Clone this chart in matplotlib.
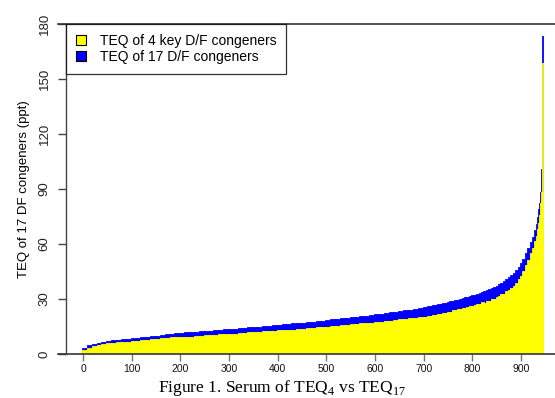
import numpy as np
import matplotlib
matplotlib.use("Agg")
from matplotlib import pyplot as plt
from matplotlib.patches import Patch

plt.rcParams['font.family'] = ['Liberation Sans', 'DejaVu Sans']
plt.rcParams['mathtext.fontset'] = 'custom'
plt.rcParams['mathtext.rm'] = 'Liberation Serif'

# samples sorted by TEQ17; ranks 0-700 grouped by 10
teq17_lo = [3.0, 4.2, 5.0, 5.6, 6.1, 6.5, 6.9, 7.2, 7.5, 7.8,
            8.0, 8.3, 8.6, 8.9, 9.2, 9.5, 9.8, 10.1, 10.4, 10.8,
            11.0, 11.2, 11.4, 11.6, 11.8, 12.0, 12.2, 12.4, 12.6, 12.9,
            13.1, 13.3, 13.5, 13.7, 14.0, 14.2, 14.4, 14.7, 14.9, 15.2,
            15.4, 15.6, 15.9, 16.1, 16.4, 16.6, 16.9, 17.1, 17.4, 17.7,
            18.0, 18.3, 18.6, 18.9, 19.2, 19.5, 19.8, 20.1, 20.4, 20.8,
            21.1, 21.4, 21.8, 22.1, 22.5, 22.9, 23.3, 23.7, 24.1, 24.6]
teq4_lo = [1.8, 3.0, 3.8, 4.3, 4.8, 5.2, 5.4, 5.8, 6.0, 6.2,
           6.5, 6.6, 7.0, 7.2, 7.5, 7.6, 8.0, 8.2, 8.5, 8.7,
           8.8, 9.0, 9.0, 9.3, 9.4, 9.6, 9.8, 9.9, 10.2, 10.3,
           10.5, 10.6, 10.8, 11.0, 11.2, 11.3, 11.6, 11.8, 11.9, 12.2,
           12.3, 12.4, 12.8, 12.8, 13.1, 13.2, 13.6, 13.6, 14.0, 14.1,
           14.3, 14.6, 14.8, 15.1, 15.2, 15.6, 15.7, 16.1, 16.2, 16.6,
           16.8, 17.0, 17.4, 17.6, 17.9, 18.3, 18.5, 18.9, 19.1, 19.6]

# ranks 700-900 grouped by 5
teq17_mid = [25.0, 25.2, 25.5, 25.8, 26.0, 26.3, 26.6, 26.9, 27.2, 27.5,
             27.8, 28.1, 28.5, 28.8, 29.1, 29.5, 29.9, 30.3, 30.7, 31.1,
             31.5, 31.9, 32.3, 32.8, 33.3, 33.8, 34.3, 34.8, 35.4, 36.0,
             36.7, 37.5, 38.3, 39.2, 40.2, 41.3, 42.5, 43.8, 45.3, 47.0]
teq4_mid = [19.5, 19.9, 20.2, 20.0, 20.8, 20.9, 21.4, 21.2, 22.0, 21.9,
            22.6, 22.5, 23.3, 23.2, 23.8, 23.9, 24.6, 24.5, 25.3, 25.4,
            25.9, 26.0, 26.8, 26.6, 27.6, 27.4, 28.5, 28.3, 29.4, 29.6,
            30.5, 30.9, 32.0, 32.2, 33.6, 34.2, 35.6, 36.6, 38.4, 40.2]

# upper tail
tail_start = [900, 905, 910, 915, 920, 924, 928, 932, 935, 938, 940, 942, 944, 945]
tail_width = [5, 5, 5, 5, 4, 4, 4, 3, 3, 2, 2, 2, 1, 1]
tail_teq17 = [49.0, 51.5, 54.5, 57.5, 60.5, 63.5, 67.0, 70.5, 74.0, 78.5, 82.0, 88.0, 100.4, 173.5]
tail_teq4 = [42.0, 45.0, 48.0, 51.0, 54.5, 57.5, 61.0, 64.0, 67.5, 71.0, 75.0, 82.0, 87.8, 158.7]

left = np.concatenate([np.arange(0, 700, 10), np.arange(700, 900, 5), tail_start])
width = np.concatenate([np.full(70, 10), np.full(40, 5), tail_width])
teq17 = np.concatenate([teq17_lo, teq17_mid, tail_teq17])
teq4 = np.concatenate([teq4_lo, teq4_mid, tail_teq4])

fig = plt.figure(figsize=(5.55, 3.98), dpi=100)
ax = fig.add_axes([66/555, 44/398, 489/555, 330/398])

ax.bar(left, teq17, width=width, align='edge', color='#0000ff',
       edgecolor='#0000ff', linewidth=1.3)
ax.bar(left, teq4, width=width, align='edge', color='#ffff00',
       edgecolor='#ffff00', linewidth=1.3)

ax.set_xlim(-35, 970)
ax.set_ylim(0, 180)

for s in ['top', 'right', 'bottom']:
    ax.spines[s].set_visible(False)
ax.spines['left'].set_color('#444444')
ax.spines['left'].set_linewidth(1.0)
# horizontal lines at 0 and 180
for yv in [0, 180]:
    ax.plot([-8/489, 1], [yv, yv], color='#333333', lw=1.2,
            transform=ax.get_yaxis_transform(), clip_on=False)

ax.set_yticks([0, 30, 60, 90, 120, 150, 180])
ax.set_yticklabels(['0', '30', '60', '90', '120', '150', '180'],
                   rotation=90, va='center', fontsize=9.5, color='#222222')
ax.tick_params(axis='y', length=6, width=1, color='#444444', pad=5)
ax.set_xticks(np.arange(0, 1000, 100))
ax.set_xticklabels([str(v) for v in range(0, 1000, 100)], fontsize=7.5,
                   color='#111111')
ax.tick_params(axis='x', length=5, width=1, color='#777777', pad=2.5)

ax.set_ylabel('TEQ of 17 DF congeners (ppt)', fontsize=9.5, labelpad=6)

handles = [Patch(facecolor='#ffff00', edgecolor='black', lw=0.8),
           Patch(facecolor='#0000ff', edgecolor='black', lw=0.8)]
leg = ax.legend(handles, ['TEQ of 4 key D/F congeners', 'TEQ of 17 D/F congeners'],
                loc='upper left', bbox_to_anchor=(0, 1), fontsize=10,
                frameon=True, fancybox=False, borderaxespad=0,
                handlelength=0.75, handleheight=0.75, handletextpad=1.0,
                labelspacing=0.15, borderpad=0.7)
leg.get_frame().set_edgecolor('black')
leg.get_frame().set_linewidth(0.9)

fig.text(0.508, 5.5/398, r'Figure 1. Serum of TEQ$_{4}$ vs TEQ$_{17}$',
         family='Liberation Serif', fontsize=12.5, ha='center', va='baseline')

fig.savefig('out.png', dpi=100)
